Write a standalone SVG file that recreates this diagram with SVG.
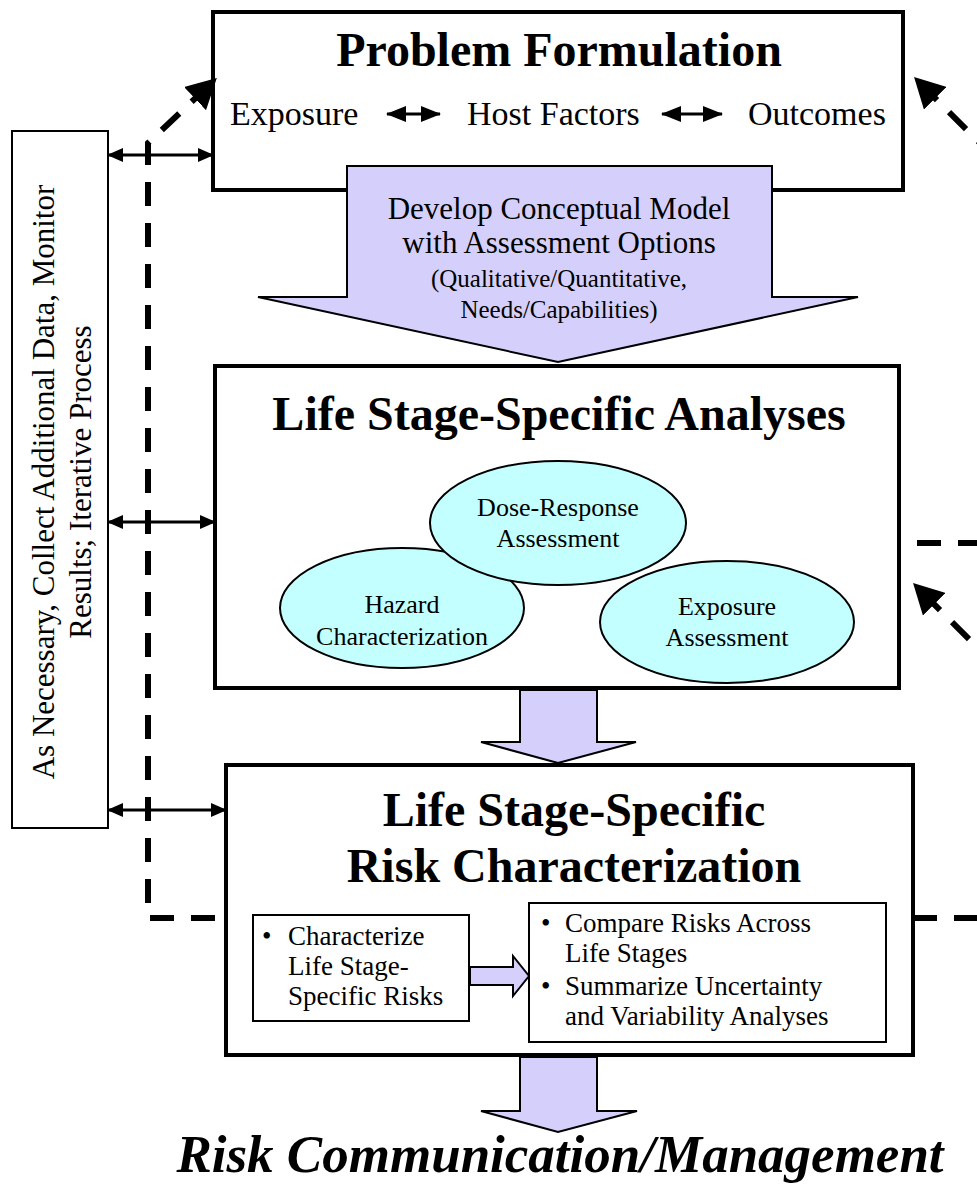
<svg xmlns="http://www.w3.org/2000/svg" width="977" height="1186" viewBox="0 0 977 1186">
  <style>
    .box { fill: #ffffff; stroke: #000000; stroke-width: 4; }
    .thin { fill: #ffffff; stroke: #000000; stroke-width: 2; }
    .flow { fill: #d5d0fb; stroke: #000000; stroke-width: 2; stroke-linejoin: miter; }
    .oval { fill: #c4ffff; stroke: #000000; stroke-width: 2; }
    .t { font-family: "Liberation Serif", "Times New Roman", serif; fill: #000000; }
    .title { font-size: 48px; font-weight: bold; text-anchor: middle; }
    .c { text-anchor: middle; }
    .dash { fill: none; stroke: #000000; stroke-width: 6; stroke-dasharray: 24 17; }
    .link { fill: none; stroke: #000000; stroke-width: 3; }
  </style>
  <defs>
    <marker id="small" viewBox="0 0 16 14" refX="15" refY="7" markerWidth="16" markerHeight="14" markerUnits="userSpaceOnUse" orient="auto-start-reverse">
      <path d="M0,0 L16,7 L0,14 z" fill="#000"/>
    </marker>
    <marker id="mid" viewBox="0 0 20 16" refX="19" refY="8" markerWidth="20" markerHeight="16" markerUnits="userSpaceOnUse" orient="auto-start-reverse">
      <path d="M0,0 L20,8 L0,16 z" fill="#000"/>
    </marker>
    <marker id="big" viewBox="0 0 30 32" refX="22" refY="16" markerWidth="30" markerHeight="32" markerUnits="userSpaceOnUse" orient="auto">
      <path d="M0,0 L30,16 L0,32 z" fill="#000"/>
    </marker>
  </defs>

  <!-- side note -->
  <g id="iterate">
    <rect class="thin" x="12" y="131" width="96" height="697"/>
    <text class="t c" font-size="31" transform="translate(54,482) rotate(-90)"><tspan x="0" y="0">As Necessary, Collect Additional Data, Monitor</tspan><tspan x="0" y="37">Results; Iterative Process</tspan></text>
  </g>

  <!-- problem formulation -->
  <g id="problem">
    <rect class="box" x="213" y="12" width="690" height="178"/>
    <text class="t title" x="559" y="66">Problem Formulation</text>
    <text class="t" font-size="34" x="230" y="125">Exposure</text>
    <text class="t" font-size="34" x="467" y="125">Host Factors</text>
    <text class="t" font-size="34" x="748" y="125">Outcomes</text>
    <line class="link" stroke-width="4" x1="387" y1="114" x2="440" y2="114" marker-start="url(#mid)" marker-end="url(#mid)"/>
    <line class="link" stroke-width="4" x1="662" y1="114" x2="722" y2="114" marker-start="url(#mid)" marker-end="url(#mid)"/>
  </g>

  <!-- conceptual model arrow -->
  <g id="model">
    <polygon class="flow" points="347,166 772,166 772,297 858,297 558,362 258,297 347,297"/>
    <text class="t c" font-size="31"><tspan x="559" y="219">Develop Conceptual Model</tspan><tspan x="559" y="253">with Assessment Options</tspan></text>
    <text class="t c" font-size="25"><tspan x="559" y="287">(Qualitative/Quantitative,</tspan><tspan x="559" y="318">Needs/Capabilities)</tspan></text>
  </g>

  <!-- analyses -->
  <g id="analyses">
    <rect class="box" x="215" y="366" width="684" height="322"/>
    <text class="t title" x="559" y="430">Life Stage-Specific Analyses</text>
  </g>
  <g id="hazard">
    <ellipse class="oval" cx="402" cy="608" rx="122" ry="60"/>
    <text class="t c" font-size="26"><tspan x="402" y="613">Hazard</tspan><tspan x="402" y="645">Characterization</tspan></text>
  </g>
  <g id="exposure">
    <ellipse class="oval" cx="727" cy="622" rx="127" ry="61"/>
    <text class="t c" font-size="26"><tspan x="727" y="615">Exposure</tspan><tspan x="727" y="646">Assessment</tspan></text>
  </g>
  <g id="dose">
    <ellipse class="oval" cx="558" cy="523" rx="128" ry="62"/>
    <text class="t c" font-size="26"><tspan x="558" y="516">Dose-Response</tspan><tspan x="558" y="547">Assessment</tspan></text>
  </g>

  <g id="step2">
    <polygon class="flow" points="520,690 597,690 597,742 636,742 558,763 481,742 520,742"/>
  </g>

  <!-- risk characterization -->
  <g id="risk">
    <rect class="box" x="226" y="765" width="687" height="290"/>
    <text class="t title"><tspan x="574" y="826">Life Stage-Specific</tspan><tspan x="574" y="882">Risk Characterization</tspan></text>
  </g>
  <g id="characterize">
    <rect class="thin" x="253" y="915" width="216" height="106"/>
    <text class="t" font-size="27"><tspan x="262" y="945">•</tspan><tspan x="288" y="945">Characterize</tspan><tspan x="288" y="975">Life Stage-</tspan><tspan x="288" y="1005">Specific Risks</tspan></text>
  </g>
  <g id="step3">
    <polygon class="flow" stroke-width="1.5" points="470,967 513,967 513,956 529,976 513,996 513,985 470,985"/>
  </g>
  <g id="compare">
    <rect class="thin" x="529" y="903" width="357" height="139"/>
    <text class="t" font-size="27"><tspan x="541" y="932">•</tspan><tspan x="565" y="932">Compare Risks Across</tspan><tspan x="565" y="962">Life Stages</tspan><tspan x="541" y="995">•</tspan><tspan x="565" y="995">Summarize Uncertainty</tspan><tspan x="565" y="1025">and Variability Analyses</tspan></text>
  </g>

  <g id="step4">
    <polygon class="flow" points="520,1057 597,1057 597,1111 637,1111 558,1132 481,1111 520,1111"/>
  </g>
  <g id="outcome">
    <text class="t c" font-size="53" font-weight="bold" font-style="italic" x="560" y="1172">Risk Communication/Management</text>
  </g>

  <!-- connectors -->
  <g id="connectors">
    <line class="link" x1="108" y1="155" x2="213" y2="155" marker-start="url(#small)" marker-end="url(#small)"/>
    <line class="link" x1="108" y1="522" x2="215" y2="522" marker-start="url(#small)" marker-end="url(#small)"/>
    <line class="link" x1="108" y1="810" x2="226" y2="810" marker-start="url(#small)" marker-end="url(#small)"/>

    <path class="dash" d="M215,918 L148,918 L148,143 L211,83.5" marker-end="url(#big)"/>
    <line class="dash" x1="913" y1="918" x2="990" y2="918"/>
    <line class="dash" x1="917" y1="543" x2="990" y2="543"/>
    <line class="dash" x1="998" y1="668" x2="918.7" y2="588.7" marker-end="url(#big)"/>
    <line class="dash" x1="995" y1="158" x2="919.7" y2="82.7" marker-end="url(#big)"/>
  </g>
</svg>
